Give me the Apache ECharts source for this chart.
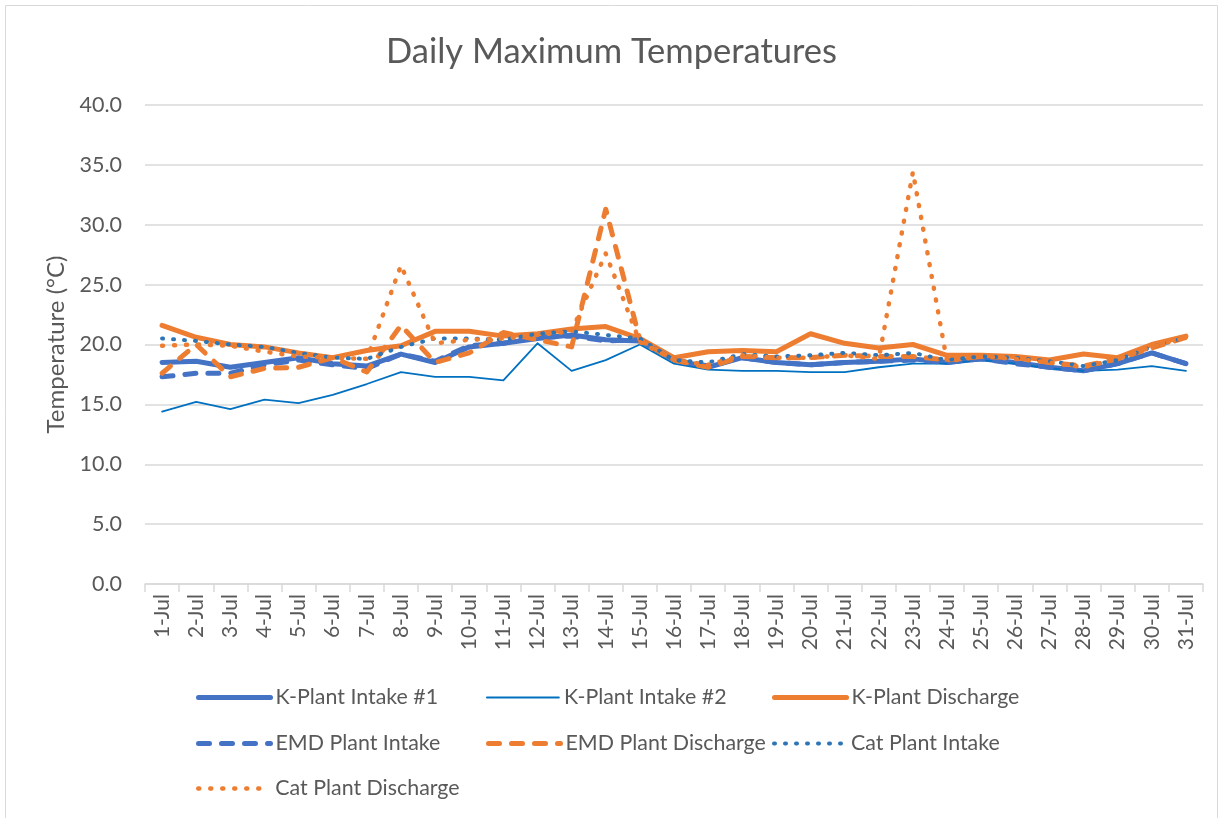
<!DOCTYPE html>
<html>
<head>
<meta charset="utf-8">
<title>Daily Maximum Temperatures</title>
<script src="https://cdn.jsdelivr.net/npm/echarts@6/dist/echarts.min.js"></script>
<style>
	html, body { margin: 0; padding: 0; background: #fff; }
	#chart { width: 1223px; height: 818px; }
</style>
</head>
<body>
<div id="chart"></div>
<script>
const days = []
for (let d = 1; d <= 31; d++) days.push(d + '-Jul')

const kIntake1 = [18.5, 18.6, 18.1, 18.5, 18.9, 18.4, 18.2, 19.2, 18.5, 19.8, 20.1, 20.5, 20.8, 20.4, 20.3, 18.7, 18.1, 18.9, 18.5, 18.3, 18.5, 18.6, 18.8, 18.5, 18.8, 18.5, 18.1, 17.8, 18.4, 19.3, 18.4]
const kIntake2 = [14.4, 15.2, 14.6, 15.4, 15.1, 15.8, 16.7, 17.7, 17.3, 17.3, 17.0, 20.1, 17.8, 18.7, 20.0, 18.4, 17.9, 17.8, 17.8, 17.7, 17.7, 18.1, 18.4, 18.4, 18.7, 18.4, 18.0, 17.8, 17.9, 18.2, 17.8]
const kDischarge = [21.6, 20.6, 20.0, 19.8, 19.3, 18.9, 19.5, 19.9, 21.1, 21.1, 20.7, 20.9, 21.3, 21.5, 20.5, 18.9, 19.4, 19.5, 19.4, 20.9, 20.1, 19.7, 20.0, 19.1, 19.1, 19.0, 18.7, 19.2, 18.9, 20.0, 20.7]
const emdIntake = [17.3, 17.6, 17.6, 18.3, 18.7, 18.3, 18.0, 19.2, 18.6, 19.9, 20.1, 20.6, 20.7, 20.3, 20.4, 18.7, 18.2, 18.9, 18.5, 18.3, 18.5, 18.6, 18.7, 18.5, 18.8, 18.4, 18.1, 17.8, 18.4, 19.3, 18.4]
const emdDischarge = [17.6, 20.0, 17.3, 18.0, 18.1, 18.9, 17.7, 21.6, 18.5, 19.3, 21.0, 20.4, 19.8, 31.3, 20.4, 18.7, 18.1, 19.0, 18.9, 18.9, 19.1, 19.0, 19.0, 18.7, 19.0, 18.9, 18.5, 18.2, 18.8, 19.7, 20.6]
const catIntake = [20.5, 20.3, 20.0, 19.8, 19.3, 18.9, 18.8, 19.8, 20.5, 20.5, 20.4, 20.9, 21.1, 20.8, 20.5, 18.7, 18.5, 19.2, 19.0, 19.1, 19.3, 19.1, 19.3, 18.7, 19.0, 18.9, 18.6, 18.2, 18.7, 19.8, 20.6]
const catDischarge = [19.9, 20.0, 19.9, 19.4, 19.0, 18.9, 18.8, 26.6, 20.1, 20.4, 20.5, 20.8, 21.1, 27.6, 20.2, 18.7, 18.3, 19.1, 18.9, 18.9, 19.1, 18.8, 34.4, 18.6, 19.0, 18.8, 18.5, 18.1, 18.8, 19.8, 20.6]

const font = 'Lato, "Open Sans", sans-serif'
const textColor = '#595959'
const gridColor = '#D9D9D9'

// name, data, color, width, dash
const seriesDefs = [
	['K-Plant Intake #1', kIntake1, '#4472C4', 5, 'solid'],
	['K-Plant Intake #2', kIntake2, '#0070C0', 1.8, 'solid'],
	['K-Plant Discharge', kDischarge, '#ED7D31', 5, 'solid'],
	['EMD Plant Intake', emdIntake, '#4472C4', 5, [11, 12]],
	['EMD Plant Discharge', emdDischarge, '#ED7D31', 5, [11, 12]],
	['Cat Plant Intake', catIntake, '#2E75B6', 4, [1, 10]],
	['Cat Plant Discharge', catDischarge, '#ED7D31', 4.5, [1, 11]]
]

// legend slots: left of symbol, top
const legendPos = [
	[196, 687], [486, 687], [772, 687],
	[196, 733], [486, 733], [772, 733],
	[196, 778]
]

const option = {
	animation: false,
	backgroundColor: '#fff',
	textStyle: { fontFamily: font },
	title: {
		text: 'Daily Maximum Temperatures',
		left: 'center',
		top: 29,
		textStyle: { fontFamily: font, fontSize: 34.5, fontWeight: 'normal', color: textColor }
	},
	graphic: [{
		type: 'rect',
		shape: { x: 5.5, y: 5.5, width: 1212, height: 830 },
		style: { fill: 'none', stroke: gridColor, lineWidth: 1 },
		silent: true
	}],
	grid: { left: 145, right: 20, top: 105, bottom: 234, containLabel: false },
	legend: seriesDefs.map((s, i) => ({
		data: [s[0]],
		left: legendPos[i][0],
		top: legendPos[i][1],
		padding: 0,
		itemWidth: 72,
		itemHeight: 14,
		itemGap: 0,
		itemStyle: { opacity: 0 },
		lineStyle: { width: s[3], type: s[4], cap: 'round' },
		textStyle: { fontFamily: font, fontSize: 21.4, color: textColor }
	})),
	xAxis: {
		type: 'category',
		data: days,
		boundaryGap: true,
		axisLine: { lineStyle: { color: gridColor, width: 1.5 } },
		axisTick: { show: true, interval: 0, length: 8, lineStyle: { color: gridColor, width: 1.5 } },
		axisLabel: { interval: 0, rotate: 90, margin: 10, fontFamily: font, fontSize: 21, color: textColor }
	},
	yAxis: {
		type: 'value',
		min: 0,
		max: 40,
		interval: 5,
		name: 'Temperature (°C)',
		nameLocation: 'middle',
		nameRotate: 90,
		nameGap: 76,
		nameTextStyle: { fontFamily: font, fontSize: 24, color: textColor },
		axisLine: { show: false },
		axisTick: { show: false },
		splitLine: { lineStyle: { color: gridColor, width: 1.5 } },
		axisLabel: {
			margin: 23,
			fontFamily: font,
			fontSize: 21.5,
			color: textColor,
			formatter: v => v.toFixed(1)
		}
	},
	series: seriesDefs.map(s => ({
		name: s[0],
		type: 'line',
		data: s[1],
		symbol: 'none',
		showSymbol: false,
		color: s[2],
		lineStyle: { color: s[2], width: s[3], type: s[4], cap: 'round', join: 'round' }
	}))
}

const chart = echarts.init(document.getElementById('chart'))
chart.setOption(option)
</script>
</body>
</html>
